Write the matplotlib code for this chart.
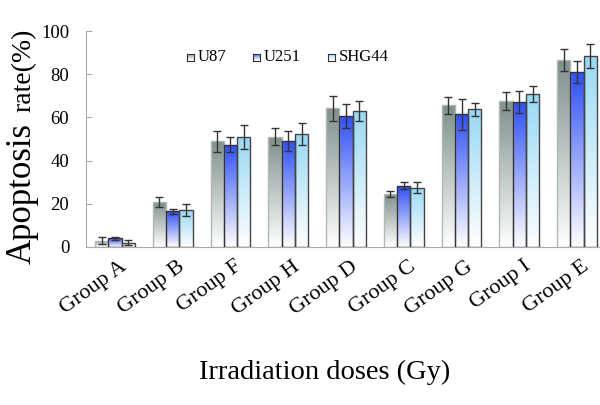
import numpy as np
import matplotlib.pyplot as plt
from matplotlib.colors import LinearSegmentedColormap
from matplotlib.patches import Rectangle
from matplotlib.transforms import offset_copy

groups = ["Group A", "Group B", "Group F", "Group H", "Group D",
          "Group C", "Group G", "Group I", "Group E"]
series = ["U87", "U251", "SHG44"]
u87 = [2.8, 20.7, 48.9, 51.1, 64.2, 24.5, 65.6, 67.6, 86.5]
u87_err = [1.5, 2.2, 4.8, 4.0, 5.9, 1.5, 3.9, 4.3, 5.1]
u251 = [3.9, 16.4, 47.4, 49.2, 60.5, 28.3, 61.5, 67.2, 81.1]
u251_err = [0.7, 1.2, 3.5, 4.7, 5.6, 1.6, 7.2, 5.1, 5.3]
shg44 = [1.9, 16.9, 50.9, 52.2, 63.0, 27.4, 63.8, 70.9, 88.7]
shg44_err = [1.2, 2.8, 5.6, 5.1, 4.8, 2.6, 3.1, 3.7, 5.6]

top_colors = ["#7f8f8c", "#2f4ff5", "#98d8f4"]
edge_colors = ["#b0b8b8", "#333333", "#444444"]

plt.rcParams['font.family'] = ['Liberation Serif', 'DejaVu Serif']


def gradient_bar(ax, x, w, h, top_color, edge):
    cmap = LinearSegmentedColormap.from_list("g", ["#ffffff", top_color])
    grad = np.linspace(0, 1, 256).reshape(-1, 1)
    im = ax.imshow(grad, cmap=cmap, aspect='auto', origin='lower',
                   extent=(x, x + w, 0, h), zorder=2)
    rect = Rectangle((x, 0), w, h, facecolor='none', edgecolor=edge,
                     linewidth=1.0, zorder=3)
    ax.add_patch(rect)
    im.set_clip_path(rect)


fig = plt.figure(figsize=(6.0, 4.05), dpi=100)
ax = fig.add_axes([86 / 600, 1 - 246.7 / 405, 520 / 600, 215.4 / 405])

x = np.arange(len(groups))
w = 0.23
data = [(u87, u87_err), (u251, u251_err), (shg44, shg44_err)]
for i, (vals, errs) in enumerate(data):
    xs = x + (i - 1) * w
    for xi, v in zip(xs, vals):
        gradient_bar(ax, xi - w / 2, w, v, top_colors[i], edge_colors[i])
    ax.errorbar(xs, vals, yerr=errs, fmt='none', ecolor='#333333',
                elinewidth=1.0, capsize=3, capthick=1.0, zorder=4)

ax.set_xlim(-0.5, 8.5)
ax.set_ylim(0, 100)
ax.set_yticks([0, 20, 40, 60, 80, 100])
ax.tick_params(axis='y', direction='in', length=4, color='#aaaaaa',
               labelsize=13.5, pad=12)
ax.tick_params(axis='x', length=0, labelsize=16)
ax.set_xticks(x)
labels = ax.set_xticklabels(groups, rotation=36, ha='right',
                            rotation_mode='anchor')
for lab in labels:
    lab.set_transform(offset_copy(lab.get_transform(), fig=fig,
                                  x=3, y=-4, units='points'))
for s in ['top', 'right']:
    ax.spines[s].set_visible(False)
for s in ['left', 'bottom']:
    ax.spines[s].set_color('#aaaaaa')

# legend
leg_x = [187, 253, 328]
for i, name in enumerate(series):
    px = leg_x[i] / 600
    py = 1 - 57 / 405
    sq = fig.add_axes([px, py - 3.5 / 405, 7 / 600, 7 / 405])
    grad = np.linspace(0, 1, 64).reshape(-1, 1)
    cmap = LinearSegmentedColormap.from_list("g", ["#ffffff", top_colors[i]])
    sq.imshow(grad, cmap=cmap, aspect='auto', origin='lower')
    sq.set_xticks([])
    sq.set_yticks([])
    for s in sq.spines.values():
        s.set_color('#333333')
        s.set_linewidth(0.8)
    fig.text(px + 11 / 600, py, name, fontsize=12, va='center', ha='left')

fig.text(31 / 600, 1 - 193 / 405, "Apoptosis", rotation=90, fontsize=25,
         ha='center', va='baseline', rotation_mode='anchor')
fig.text(31 / 600, 1 - 70 / 405, "rate(%)", rotation=90, fontsize=20,
         ha='center', va='baseline', rotation_mode='anchor')
fig.text(325 / 600, 1 - 372 / 405, "Irradiation doses (Gy)",
         fontsize=20.5, ha='center', va='center')

fig.savefig("out.png", dpi=100)
